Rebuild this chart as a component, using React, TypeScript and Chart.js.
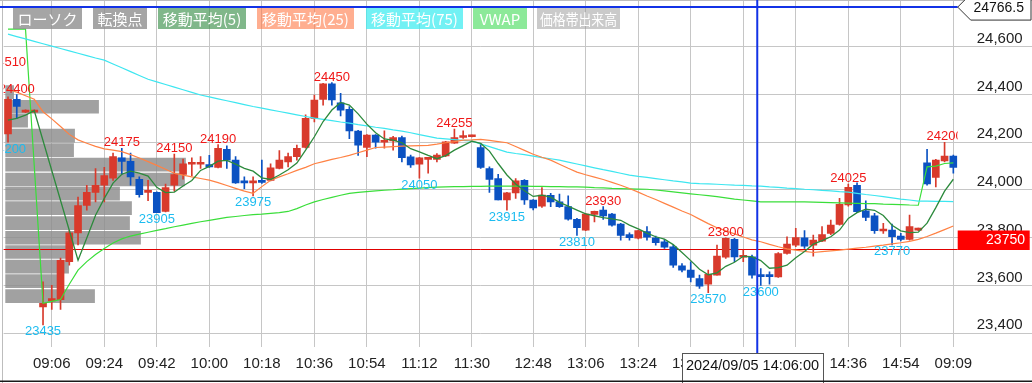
import React, { useEffect, useRef } from 'react';
import { Chart, registerables } from 'chart.js';

Chart.register(...registerables);

// ---------- data ----------
const timeLabels = (
  '14:51 14:54 14:57 15:00 ' +
  '09:03 09:06 09:09 09:12 09:15 09:18 09:21 09:24 09:27 09:30 09:33 09:36 09:39 09:42 09:45 09:48 09:51 09:54 09:57 ' +
  '10:00 10:03 10:06 10:09 10:12 10:15 10:18 10:21 10:24 10:27 10:30 10:33 10:36 10:39 10:42 10:45 10:48 10:51 10:54 10:57 ' +
  '11:00 11:03 11:06 11:09 11:12 11:15 11:18 11:21 11:24 11:27 11:30 ' +
  '12:30 12:33 12:36 12:39 12:42 12:45 12:48 12:51 12:54 12:57 ' +
  '13:00 13:03 13:06 13:09 13:12 13:15 13:18 13:21 13:24 13:27 13:30 13:33 13:36 13:39 13:42 13:45 13:48 13:51 13:54 13:57 ' +
  '14:00 14:03 14:06 14:09 14:12 14:15 14:18 14:21 14:24 14:27 14:30 14:33 14:36 14:39 14:42 14:45 14:48 14:51 14:54 14:57 ' +
  '15:00 09:00 09:03 09:06 09:09'
).split(' ');

const xTickIndex = [5, 11, 17, 23, 29, 35, 41, 47, 53, 60, 66, 72, 78, 84, 90, 96, 102, 108];

const opens = [
  24235, 24380, 24326, 24326, 23510, 23535, 23540, 23700, 23820, 23935,
  23990, 24020, 24050, 24135, 24120, 24045, 23990, 23990, 23910, 24020,
  24065, 24108, 24108, 24107, 24095, 24170, 24125, 24035, 24030, 24035,
  24040, 24090, 24118, 24140, 24178, 24300, 24380, 24445, 24365, 24338,
  24247, 24178, 24230, 24200, 24206, 24220, 24139, 24108, 24128, 24128,
  24143, 24196, 24220, 24223, 24178, 24090, 24048, 23958, 23988, 24040,
  23958, 23932, 23978, 23950, 23930, 23877, 23832, 23898, 23916, 23899,
  23857, 23813, 23798, 23826, 23800, 23783, 23762, 23682, 23664, 23629,
  23605, 23643, 23718, 23793, 23718, 23720, 23643, 23642, 23636, 23734,
  23769, 23800, 23769, 23786, 23818, 23856, 23937, 24020, 23913, 23892,
  23828, 23832, 23807, 23793, 23832, 24114, 24053, 24122, 24142,
];
const highs = [
  24390, 24400, 24336, 24336, 23615, 23600, 23715, 23830, 23970, 24020,
  24090, 24095, 24155, 24175, 24155, 24055, 24040, 23992, 24025, 24150,
  24130, 24135, 24140, 24145, 24190, 24185, 24140, 24055, 24055, 24125,
  24110, 24165, 24155, 24188, 24315, 24398, 24447, 24450, 24405, 24350,
  24250, 24232, 24232, 24248, 24225, 24226, 24146, 24137, 24133, 24153,
  24204, 24255, 24248, 24230, 24195, 24097, 24066, 23990, 24048, 24044,
  23960, 24010, 23986, 23983, 23975, 23881, 23902, 23912, 23930, 23902,
  23860, 23820, 23831, 23847, 23807, 23793, 23770, 23692, 23699, 23643,
  23664, 23769, 23800, 23797, 23748, 23727, 23671, 23657, 23738, 23804,
  23839, 23830, 23811, 23847, 23874, 23965, 24025, 24030, 23955, 23902,
  23860, 23857, 23818, 23895, 23840, 24170, 24128, 24200, 24146,
];
const lows = [
  24200, 24300, 24324, 24324, 23435, 23500, 23500, 23685, 23770, 23915,
  23950, 23950, 24040, 24065, 24020, 23970, 23955, 23905, 23908, 23995,
  24045, 24060, 24090, 24095, 24093, 24090, 24027, 24005, 23975, 24028,
  24038, 24088, 24097, 24125, 24175, 24285, 24355, 24355, 24310, 24215,
  24145, 24140, 24175, 24175, 24167, 24118, 24095, 24050, 24070, 24118,
  24140, 24195, 24216, 24222, 24090, 23990, 23958, 23915, 23965, 23940,
  23916, 23927, 23930, 23927, 23873, 23810, 23830, 23866, 23877, 23848,
  23790, 23790, 23795, 23790, 23769, 23755, 23675, 23657, 23615, 23588,
  23570, 23643, 23713, 23700, 23700, 23630, 23600, 23605, 23634, 23731,
  23762, 23755, 23723, 23783, 23813, 23853, 23932, 23905, 23871, 23818,
  23818, 23770, 23787, 23790, 23830, 24020, 24013, 24118, 24070,
];
const closes = [
  24380, 24350, 24334, 24334, 23525, 23545, 23705, 23820, 23935, 23990,
  24020, 24060, 24140, 24120, 24055, 23980, 23995, 23905, 24010, 24065,
  24110, 24112, 24112, 24097, 24175, 24125, 24030, 24030, 24037, 24032,
  24093, 24125, 24140, 24175, 24300, 24377, 24445, 24377, 24335, 24248,
  24188, 24230, 24200, 24206, 24220, 24135, 24105, 24135, 24132, 24146,
  24202, 24220, 24228, 24228, 24095, 24044, 23958, 23988, 24038, 23958,
  23925, 23979, 23950, 23930, 23878, 23842, 23899, 23911, 23891, 23853,
  23810, 23800, 23830, 23802, 23779, 23760, 23685, 23664, 23634, 23597,
  23647, 23723, 23797, 23720, 23723, 23643, 23637, 23637, 23734, 23773,
  23801, 23765, 23790, 23813, 23853, 23940, 24011, 23909, 23885, 23829,
  23832, 23804, 23793, 23847, 23838, 24025, 24125, 24142, 24095,
];

const ma5 = [
  24293, 24300, 24314, 24332, null, null, null, null, 23706, 23799,
  23894, 23965, 24029, 24066, 24079, 24071, 24058, 24011, 23989, 23991,
  24017, 24040, 24082, 24099, 24121, 24124, 24108, 24091, 24079, 24051,
  24044, 24063, 24085, 24113, 24167, 24223, 24287, 24335, 24367, 24356,
  24319, 24276, 24240, 24214, 24209, 24198, 24173, 24160, 24145, 24131,
  24144, 24167, 24186, 24205, 24195, 24163, 24111, 24063, 24025, 23997,
  23973, 23978, 23970, 23948, 23932, 23916, 23900, 23892, 23884, 23879,
  23873, 23853, 23837, 23819, 23804, 23794, 23771, 23738, 23704, 23668,
  23645, 23653, 23680, 23697, 23722, 23721, 23704, 23672, 23675, 23685,
  23716, 23742, 23773, 23788, 23804, 23832, 23881, 23905, 23920, 23915,
  23893, 23852, 23829, 23821, 23823, 23861, 23926, 23995, 24045,
];
const ma25 = [
  24421, 24410, 24395, 24380, 24328, 24298, 24266, 24233, 24210, 24196,
  24183, 24172, 24167, 24161, 24148, 24134, 24119, 24103, 24087, 24070,
  24062, 24055, 24048, 24041, 24031, 24019, 24007, 23995, 23986, 24014,
  24041, 24055, 24068, 24082, 24095, 24110, 24119, 24128, 24136, 24145,
  24156, 24167, 24178, 24180, 24182, 24184, 24185, 24186, 24187, 24192,
  24198, 24203, 24209, 24210, 24212, 24208, 24203, 24198, 24182, 24166,
  24150, 24137, 24125, 24108, 24091, 24075, 24064, 24054, 24044, 24032,
  24020, 24006, 23991, 23975, 23960, 23944, 23928, 23912, 23897, 23878,
  23859, 23842, 23829, 23816, 23803, 23791, 23783, 23772, 23762, 23753,
  23748, 23743, 23738, 23742, 23745, 23748, 23752, 23756, 23760, 23765,
  23769, 23774, 23779, 23785, 23793, 23805, 23819, 23834, 23849,
];
const ma75 = [
  24653, 24643, 24633, 24623, 24613, 24603, 24593, 24583, 24573, 24563,
  24553, 24544, 24528, 24512, 24496, 24480, 24464, 24453, 24442, 24431,
  24420, 24409, 24398, 24390, 24382, 24374, 24366, 24358, 24350, 24343,
  24336, 24329, 24322, 24315, 24308, 24301, 24296, 24291, 24285, 24280,
  24274, 24269, 24263, 24258, 24252, 24247, 24240, 24232, 24225, 24217,
  24214, 24211, 24208, 24205, 24193, 24182, 24170, 24159, 24153, 24148,
  24142, 24136, 24131, 24125, 24117, 24109, 24101, 24093, 24085, 24078,
  24070, 24062, 24057, 24053, 24048, 24043, 24038, 24034, 24029, 24027,
  24026, 24024, 24022, 24020, 24019, 24017, 24016, 24013, 24011, 24008,
  24006, 24003, 24001, 23998, 23996, 23993, 23991, 23986, 23981, 23977,
  23972, 23967, 23962, 23958, 23953, 23953, 23952, 23952, 23951,
];
const vwap = [
  24674, 24674, 24674, null, 23525, 23533, 23541, 23605, 23664, 23700,
  23730, 23755, 23778, 23795, 23807, 23815, 23823, 23831, 23838, 23846,
  23853, 23860, 23867, 23873, 23879, 23885, 23889, 23893, 23897, 23899,
  23902, 23905, 23910, 23922, 23937, 23950, 23960, 23969, 23978, 23986,
  23990, 23993, 23996, 23999, 24001, 24004, 24006, 24008, 24010, 24012,
  24013, 24014, 24014, 24015, 24015, 24016, 24016, 24016, 24016, 24016,
  24015, 24015, 24014, 24014, 24013, 24013, 24012, 24010, 24009, 24007,
  24006, 24005, 24004, 24003, 24000, 23996, 23992, 23988, 23984, 23980,
  23976, 23972, 23967, 23962, 23958, 23954, 23950, 23950, 23950, 23950,
  23950, 23950, 23949, 23948, 23947, 23946, 23945, 23944, 23943, 23943,
  23941, 23940, 23939, 23937, 23936, 24097, 24100, 24111, 24114,
];

// price-band volume profile
const vpPrice = [24410, 24349, 24291, 24228, 24167, 24106, 24044, 23985, 23924, 23861, 23800, 23740, 23679, 23618, 23555];
const vpVolume = [80, 930, 220, 690, 680, 1800, 1790, 1140, 1260, 1240, 1350, 630, 630, 520, 890];

// turning points
const pivotIndex = [0, 1, 0, 4, 13, 17, 19, 24, 28, 37, 47, 51, 57, 65, 68, 80, 82, 86, 96, 101, 107];
const pivotPrice = [24510, 24400, 24200, 23435, 24175, 23905, 24150, 24190, 23975, 24450, 24050, 24255, 23915, 23810, 23930, 23570, 23800, 23600, 24025, 23770, 24200];
const pivotKind = ['H', 'H', 'L', 'L', 'H', 'L', 'H', 'H', 'L', 'H', 'L', 'H', 'L', 'L', 'H', 'L', 'H', 'L', 'H', 'L', 'H'];

const legendItems = ['ローソク', '転換点', '移動平均(5)', '移動平均(25)', '移動平均(75)', 'VWAP', '価格帯出来高'];

const currentPrice = 23750;
const cursorIndex = 85.6;
const cursorPrice = 24766.5;
const cursorTime = '2024/09/05 14:06:00';

// ---------- styles ----------
const FONT = '"Liberation Sans", Arial, Helvetica, sans-serif';
const CJK = '"Noto Sans CJK JP", "Liberation Sans", sans-serif';
const GRID = '#c6c6c6';
const UP = '#d83a2c';
const DOWN = '#0b52c2';
const legendBoxes = [[13, 69], [93, 54], [158, 88], [257, 97], [366, 97], [473, 54], [537, 83]];
const legendColors = [
  'rgba(140,140,140,0.78)', 'rgba(140,140,140,0.78)', 'rgba(60,145,75,0.65)',
  'rgba(255,120,70,0.6)', 'rgba(60,235,240,0.72)', 'rgba(70,220,90,0.62)', 'rgba(150,150,150,0.5)',
];
const Y_MIN = 23342;
const Y_MAX = 24792;

const overlay = {
  id: 'overlay',
  afterDatasetDraw(chart: any, args: any) {
    if (args.index !== 6) return;
    const { ctx, chartArea: a } = chart;
    const py = Math.round(chart.scales.y.getPixelForValue(currentPrice)) - 0.5;
    ctx.save();
    ctx.strokeStyle = '#e00000';
    ctx.lineWidth = 1;
    ctx.beginPath();
    ctx.moveTo(a.left, py);
    ctx.lineTo(a.right, py);
    ctx.stroke();
    ctx.restore();
  },
  afterDraw(chart: any) {
    const { ctx, chartArea: a } = chart;
    const xs = chart.scales.x;
    const ys = chart.scales.y;
    ctx.save();

    // turning point labels
    ctx.save();
    ctx.beginPath();
    ctx.rect(a.left, a.top, a.right - a.left, a.bottom - a.top);
    ctx.clip();
    ctx.font = `13px ${FONT}`;
    ctx.textAlign = 'center';
    ctx.textBaseline = 'alphabetic';
    pivotIndex.forEach((idx, k) => {
      const x = xs.getPixelForValue(idx);
      const y = ys.getPixelForValue(pivotPrice[k]);
      if (pivotKind[k] === 'H') {
        ctx.fillStyle = '#f01818';
        ctx.fillText(String(pivotPrice[k]), x, y - 2);
      } else {
        ctx.fillStyle = '#1cbcf0';
        ctx.fillText(String(pivotPrice[k]), x, y + 10.5);
      }
    });
    ctx.restore();

    // frame
    ctx.fillStyle = '#bdbdbd';
    ctx.fillRect(2, 0, 1, 383);
    ctx.fillRect(0, 0, 1032, 1);

    // legend
    ctx.font = `15px ${CJK}`;
    ctx.textAlign = 'center';
    ctx.textBaseline = 'middle';
    legendItems.forEach((t, i) => {
      const [bx, bw] = legendBoxes[i];
      ctx.fillStyle = legendColors[i];
      ctx.fillRect(bx, 8, bw, 21);
      ctx.fillStyle = '#ffffff';
      ctx.fillText(t, bx + bw / 2, 19, bw - 6);
    });

    // crosshair
    const cx = xs.getPixelForValue(cursorIndex);
    const cy = ys.getPixelForValue(cursorPrice);
    ctx.strokeStyle = '#1232e6';
    ctx.lineWidth = 2;
    ctx.beginPath();
    ctx.moveTo(cx, 0);
    ctx.lineTo(cx, 353);
    ctx.moveTo(0, cy);
    ctx.lineTo(a.right, cy);
    ctx.stroke();

    // cursor price tag
    ctx.beginPath();
    ctx.moveTo(a.right, cy);
    ctx.lineTo(a.right + 13, cy - 13);
    ctx.lineTo(1031, cy - 13);
    ctx.lineTo(1031, cy + 13);
    ctx.lineTo(a.right + 13, cy + 13);
    ctx.closePath();
    ctx.fillStyle = '#ffffff';
    ctx.fill();
    ctx.strokeStyle = '#333333';
    ctx.lineWidth = 1;
    ctx.stroke();
    ctx.fillStyle = '#111111';
    ctx.font = `14px ${FONT}`;
    ctx.textAlign = 'right';
    ctx.textBaseline = 'middle';
    ctx.fillText(String(cursorPrice), 1024, cy + 1);

    // current price tag
    const py = Math.round(ys.getPixelForValue(currentPrice));
    ctx.fillStyle = '#ff0000';
    ctx.fillRect(a.right, py - 19.5, 72, 19.5);
    ctx.fillStyle = '#ffffff';
    ctx.font = `14px ${FONT}`;
    ctx.textAlign = 'right';
    ctx.fillText(String(currentPrice), 1025, py - 9.5);

    // time tag
    const bw = 141;
    const bx = Math.round(cx - 75);
    ctx.fillStyle = '#ffffff';
    ctx.fillRect(bx, 353, bw, 32);
    ctx.strokeStyle = '#555555';
    ctx.strokeRect(bx + 0.5, 353.5, bw, 32);
    ctx.fillStyle = '#111111';
    ctx.font = `14.5px ${FONT}`;
    ctx.textAlign = 'center';
    ctx.fillText(cursorTime, bx + bw / 2, 365.5);

    // bottom border
    ctx.fillStyle = '#1a1a1a';
    ctx.fillRect(0, 380.5, 1032, 1.5);
    ctx.restore();
  },
};

export default function App() {
  const ref = useRef<HTMLCanvasElement | null>(null);

  useEffect(() => {
    document.body.style.margin = '0';
    if (!ref.current) return;
    Chart.defaults.font.family = FONT;
    const colors = opens.map((o, i) => (closes[i] >= o ? UP : DOWN));
    const bodies = opens.map((o, i) => [o, closes[i]]);
    const wicks = lows.map((l, i) => [l, highs[i]]);
    const vp = vpPrice.map((p, i) => ({ x: [0, vpVolume[i]], y: p }));

    const chart = new Chart(ref.current, {
      type: 'bar',
      data: {
        labels: timeLabels,
        datasets: [
          { type: 'line', label: '移動平均(5)', data: ma5, borderColor: '#2c8a3c', borderWidth: 1.3, pointRadius: 0, spanGaps: true, order: 1 } as any,
          { type: 'line', label: '移動平均(25)', data: ma25, borderColor: '#ff8244', borderWidth: 1.2, pointRadius: 0, order: 2 } as any,
          { type: 'line', label: '移動平均(75)', data: ma75, borderColor: '#3de6f0', borderWidth: 1.2, pointRadius: 0, order: 2 } as any,
          { type: 'line', label: 'VWAP', data: vwap, borderColor: '#3ade3a', borderWidth: 1.2, pointRadius: 0, spanGaps: true, order: 2 } as any,
          { type: 'bar', label: 'body', data: bodies, backgroundColor: colors, barThickness: 7, minBarLength: 2, grouped: false, order: 4 } as any,
          { type: 'bar', label: 'wick', data: wicks, backgroundColor: colors, barThickness: 1, grouped: false, order: 5 } as any,
          { type: 'bar', label: '価格帯出来高', indexAxis: 'y', data: vp, xAxisID: 'xv', yAxisID: 'yv', backgroundColor: 'rgba(140,140,140,0.82)', barThickness: 13, grouped: false, order: 10 } as any,
        ],
      },
      options: {
        responsive: false,
        animation: false,
        devicePixelRatio: 1,
        events: [],
        layout: { padding: { left: 3, top: 1, right: 0, bottom: 0 } },
        plugins: { legend: { display: false }, tooltip: { enabled: false } },
        scales: {
          x: {
            type: 'category',
            offset: true,
            grid: {
              offset: false,
              drawTicks: false,
              color: (c: any) => (xTickIndex.includes(c.index) ? GRID : 'rgba(0,0,0,0)'),
              lineWidth: (c: any) => (xTickIndex.includes(c.index) ? 1 : 0),
            },
            border: { display: false },
            ticks: {
              autoSkip: false,
              maxRotation: 0,
              minRotation: 0,
              padding: 8,
              color: '#222',
              font: { size: 15, family: FONT },
              callback: (v: any) => (xTickIndex.includes(Number(v)) ? timeLabels[Number(v)] : ''),
            },
            afterFit: (s: any) => { s.height = 36; },
          },
          y: {
            type: 'linear',
            position: 'right',
            min: Y_MIN,
            max: Y_MAX,
            grid: { color: GRID, drawTicks: true, tickLength: 75, tickColor: GRID },
            border: { display: false },
            ticks: {
              stepSize: 200,
              includeBounds: false,
              crossAlign: 'near',
              padding: -56,
              labelOffset: -8,
              color: '#222',
              font: { size: 15, family: FONT },
              callback: (v: any) => Number(v).toLocaleString('en-US'),
            },
            afterFit: (s: any) => { s.width = 74.3; },
          },
          xv: { type: 'linear', axis: 'x', position: 'bottom', display: false, offset: false, beginAtZero: false, grid: { offset: false }, min: -20, max: 9527 },
          yv: { type: 'linear', axis: 'y', position: 'left', display: false, offset: false, beginAtZero: false, grid: { offset: false }, min: Y_MIN, max: Y_MAX },
        },
      } as any,
      plugins: [overlay as any],
    });
    return () => chart.destroy();
  }, []);

  return (
    <div style={{ width: 1032, height: 383 }}>
      <canvas ref={ref} width={1032} height={383} style={{ display: 'block' }} />
    </div>
  );
}
